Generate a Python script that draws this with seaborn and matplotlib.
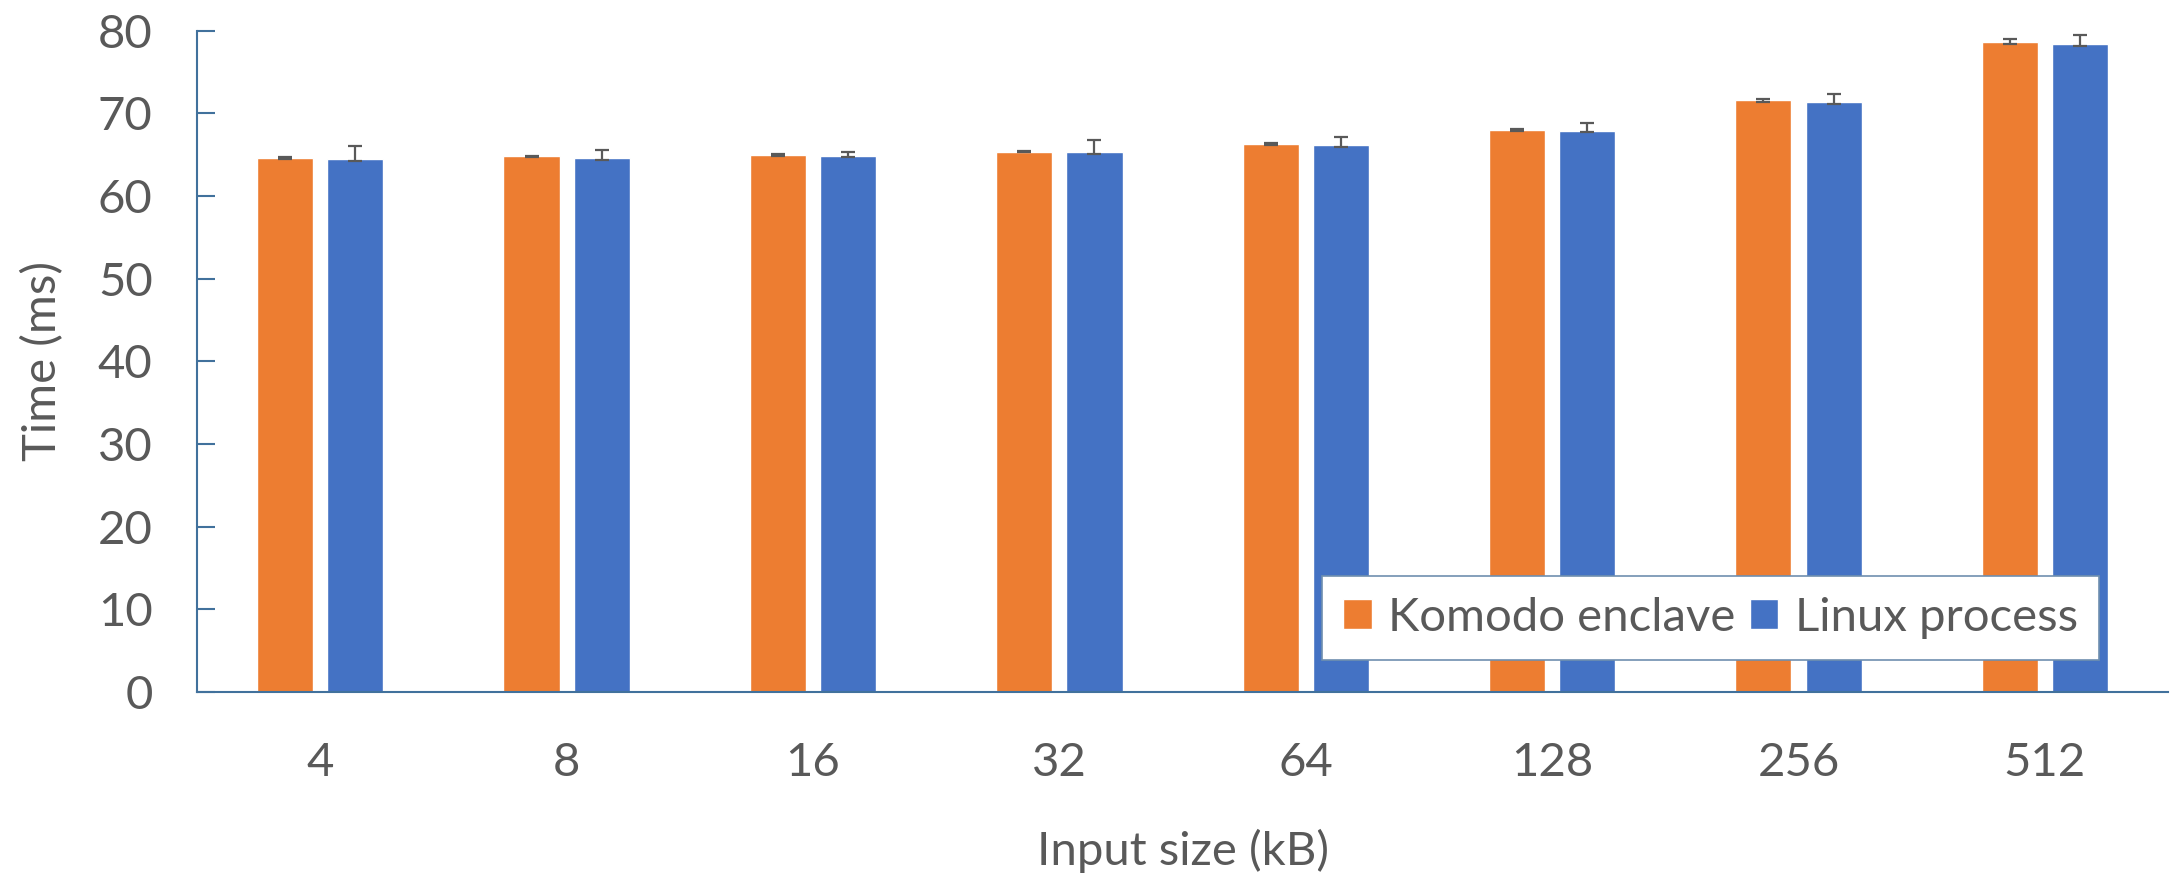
import numpy as np
import pandas as pd
import matplotlib
matplotlib.use("Agg")
import matplotlib.pyplot as plt
import seaborn as sns

# -------------------------
# DATA
# -------------------------
sizes = ["4", "8", "16", "32", "64", "128", "256", "512"]
series = ["Komodo enclave", "Linux process"]
komodo_ms = [64.6, 64.8, 65.0, 65.4, 66.3, 68.0, 71.6, 78.7]
linux_ms = [64.5, 64.6, 64.9, 65.3, 66.2, 67.9, 71.4, 78.4]
komodo_err_lo = [0.15, 0.1, 0.15, 0.1, 0.1, 0.1, 0.2, 0.3]
komodo_err_hi = [0.15, 0.1, 0.15, 0.1, 0.1, 0.1, 0.2, 0.3]
linux_err_lo = [0.2, 0.2, 0.2, 0.2, 0.2, 0.2, 0.2, 0.2]
linux_err_hi = [1.6, 1.0, 0.5, 1.5, 1.0, 0.9, 1.0, 1.1]

ORANGE = "#ED7D31"
BLUE = "#4472C4"
TEXT = "#595959"
AXIS = "#41719C"
FS = 34

df = pd.DataFrame({
    "size": sizes * 2,
    "series": [series[0]] * len(sizes) + [series[1]] * len(sizes),
    "time": komodo_ms + linux_ms,
})

sns.set_theme(style="white")
plt.rcParams["font.family"] = ["Lato", "DejaVu Sans"]

fig = plt.figure(figsize=(21.75, 8.81), dpi=100)
ax = fig.add_axes([0.0906, 0.2145, 0.9062, 0.7505])

sns.barplot(data=df, x="size", y="time", hue="series", order=sizes,
            hue_order=series, palette=[ORANGE, BLUE], width=0.57, gap=0.2,
            errorbar=None, saturation=1, ax=ax, legend=True)

# error bars on top of each bar (asymmetric, as in the source)
errs = [(komodo_err_lo, komodo_err_hi), (linux_err_lo, linux_err_hi)]
for cont, (lo, hi) in zip(ax.containers, errs):
    xs = [b.get_x() + b.get_width() / 2 for b in cont]
    ys = [b.get_height() for b in cont]
    ax.errorbar(xs, ys, yerr=[lo, hi], fmt="none", ecolor=TEXT,
                elinewidth=1.6, capsize=5, capthick=1.6, zorder=5)

ax.set_ylim(0, 80)
ax.set_xlim(-0.5, len(sizes) - 0.5)
ax.set_yticks(np.arange(0, 81, 10))

ax.set_xlabel("Input size (kB)", fontsize=FS, color=TEXT, labelpad=32)
ax.set_ylabel("Time (ms)", fontsize=FS, color=TEXT, labelpad=24)

for s in ["top", "right"]:
    ax.spines[s].set_visible(False)
for s in ["left", "bottom"]:
    ax.spines[s].set_color(AXIS)
    ax.spines[s].set_linewidth(1.5)

ax.tick_params(axis="y", direction="in", length=13, width=1.5, color=AXIS,
               labelsize=FS, labelcolor=TEXT, pad=32, left=True)
ax.tick_params(axis="x", length=0, labelsize=FS, labelcolor=TEXT, pad=36)

leg = ax.legend(loc="lower right", bbox_to_anchor=(0.965, 0.048), ncol=2,
                fontsize=FS, frameon=True, fancybox=False, borderaxespad=0,
                framealpha=1, handlelength=0.6, handleheight=0.6,
                handletextpad=0.35, columnspacing=0.3, borderpad=0.45)
leg.get_frame().set_edgecolor("#6F8FAF")
leg.get_frame().set_linewidth(1.2)
for t in leg.get_texts():
    t.set_color(TEXT)

plt.savefig("out.png", dpi=100)
